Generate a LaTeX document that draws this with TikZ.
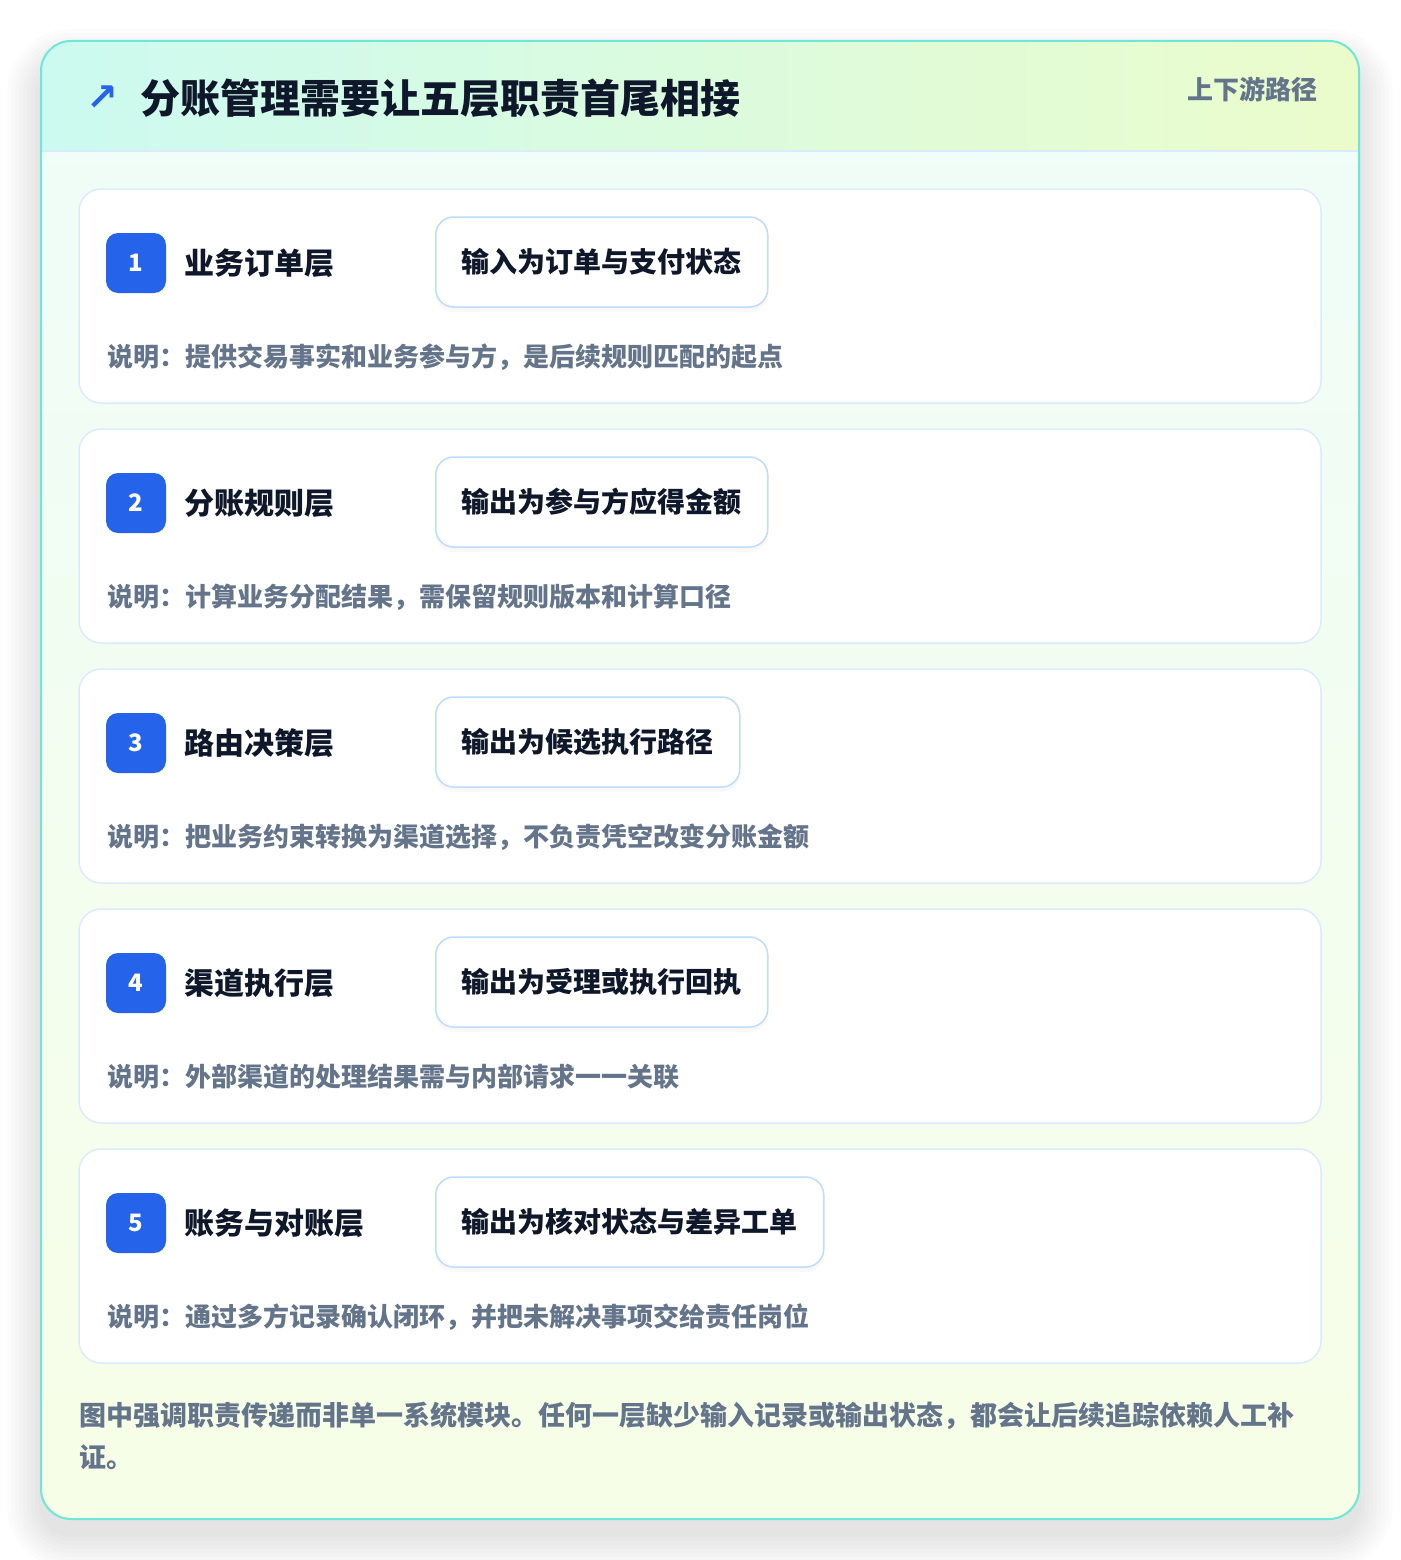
\documentclass[tikz,border=0pt]{standalone}
\usepackage{fontspec}
\setmainfont{Noto Sans CJK SC}
\newfontfamily\symfont{DejaVu Sans}
\usetikzlibrary{shadows}
\definecolor{ink}{HTML}{0F172A}
\definecolor{muted}{HTML}{64748B}
\definecolor{badgeblue}{HTML}{2563EB}
\definecolor{cardline}{HTML}{DBEAFE}
\definecolor{boxline}{HTML}{BFDBFE}
\definecolor{frameline}{HTML}{6EE7D7}
\definecolor{headleft}{HTML}{CCFAF0}
\definecolor{headright}{HTML}{EBFCCB}
\definecolor{bodytop}{HTML}{EFFDF9}
\definecolor{bodybottom}{HTML}{F7FEE7}
\newcommand{\fs}[1]{\fontsize{#1}{#1}\selectfont}

\begin{document}
\begin{tikzpicture}[x=1pt,y=-1pt,line join=round,
  card/.style={draw=cardline,fill=white,line width=1.5pt,rounded corners=22pt,
    minimum width=1242,minimum height=214},
  badge/.style={fill=badgeblue,rounded corners=12pt,minimum width=60,minimum height=60,
    text=white,font=\bfseries\fs{24}},
  layername/.style={anchor=west,inner sep=0pt,text=ink,font=\bfseries\fs{30}},
  outbox/.style={draw=boxline,fill=white,line width=1.5pt,rounded corners=18pt,
    minimum height=90,inner xsep=26pt,anchor=west,text=ink,font=\bfseries\fs{28},
    drop shadow={opacity=0.05,shadow xshift=0pt,shadow yshift=-5pt}},
  note/.style={anchor=west,inner sep=0pt,text=muted,font=\bfseries\fs{26}}]
\useasboundingbox (0,0) rectangle (1400,1560);
\fill[white] (0,0) rectangle (1400,1560);
% soft shadow of the frame
\foreach \s in {2,6,...,34}
  \fill[black,opacity=0.011,rounded corners=30pt+\s] (41-\s,41-\s+22) rectangle (1359+\s,1519+\s+16);
% frame with header
\begin{scope}
\clip[rounded corners=30pt] (41,41) rectangle (1359,1519);
\shade[top color=bodytop,bottom color=bodybottom] (41,41) rectangle (1359,1519);
\shade[left color=headleft,right color=headright] (41,41) rectangle (1359,151);
\end{scope}
\draw[cardline,line width=1.5pt] (42,151) -- (1358,151);
\draw[frameline,line width=2pt,rounded corners=30pt] (41,41) rectangle (1359,1519);
\node[text=badgeblue,font=\symfont\bfseries\fs{38}] (icon) at (102,98) {↗};
\node[anchor=west,inner sep=0pt,text=ink,font=\bfseries\fs{40}] (title) at (140,98) {分账管理需要让五层职责首尾相接};
\node[anchor=east,inner sep=0pt,text=muted,font=\bfseries\fs{26}] (tag) at (1318,89) {上下游路径};
%
% layer 1
\begin{scope}
\node[card] (card1) at (700,296) {};
\node[badge] (badge1) at (136,263) {1};
\node[layername] (name1) at (184,263) {业务订单层};
\node[outbox] (out1) at (435,262) {输入为订单与支付状态};
\node[note] (note1) at (107,357) {说明：提供交易事实和业务参与方，是后续规则匹配的起点};
\end{scope}
%
% layer 2
\begin{scope}[shift={(0,240)}]
\node[card] (card2) at (700,296) {};
\node[badge] (badge2) at (136,263) {2};
\node[layername] (name2) at (184,263) {分账规则层};
\node[outbox] (out2) at (435,262) {输出为参与方应得金额};
\node[note] (note2) at (107,357) {说明：计算业务分配结果，需保留规则版本和计算口径};
\end{scope}
%
% layer 3
\begin{scope}[shift={(0,480)}]
\node[card] (card3) at (700,296) {};
\node[badge] (badge3) at (136,263) {3};
\node[layername] (name3) at (184,263) {路由决策层};
\node[outbox] (out3) at (435,262) {输出为候选执行路径};
\node[note] (note3) at (107,357) {说明：把业务约束转换为渠道选择，不负责凭空改变分账金额};
\end{scope}
%
% layer 4
\begin{scope}[shift={(0,720)}]
\node[card] (card4) at (700,296) {};
\node[badge] (badge4) at (136,263) {4};
\node[layername] (name4) at (184,263) {渠道执行层};
\node[outbox] (out4) at (435,262) {输出为受理或执行回执};
\node[note] (note4) at (107,357) {说明：外部渠道的处理结果需与内部请求一一关联};
\end{scope}
%
% layer 5
\begin{scope}[shift={(0,960)}]
\node[card] (card5) at (700,296) {};
\node[badge] (badge5) at (136,263) {5};
\node[layername] (name5) at (184,263) {账务与对账层};
\node[outbox] (out5) at (435,262) {输出为核对状态与差异工单};
\node[note] (note5) at (107,357) {说明：通过多方记录确认闭环，并把未解决事项交给责任岗位};
\end{scope}
%
\node[anchor=west,inner sep=0pt,align=left,text=muted,font=\bfseries\fontsize{27}{42}\selectfont] (footer) at (79,1436)
  {图中强调职责传递而非单一系统模块。任何一层缺少输入记录或输出状态，都会让后续追踪依赖人工补\\证。};
\end{tikzpicture}
\end{document}
